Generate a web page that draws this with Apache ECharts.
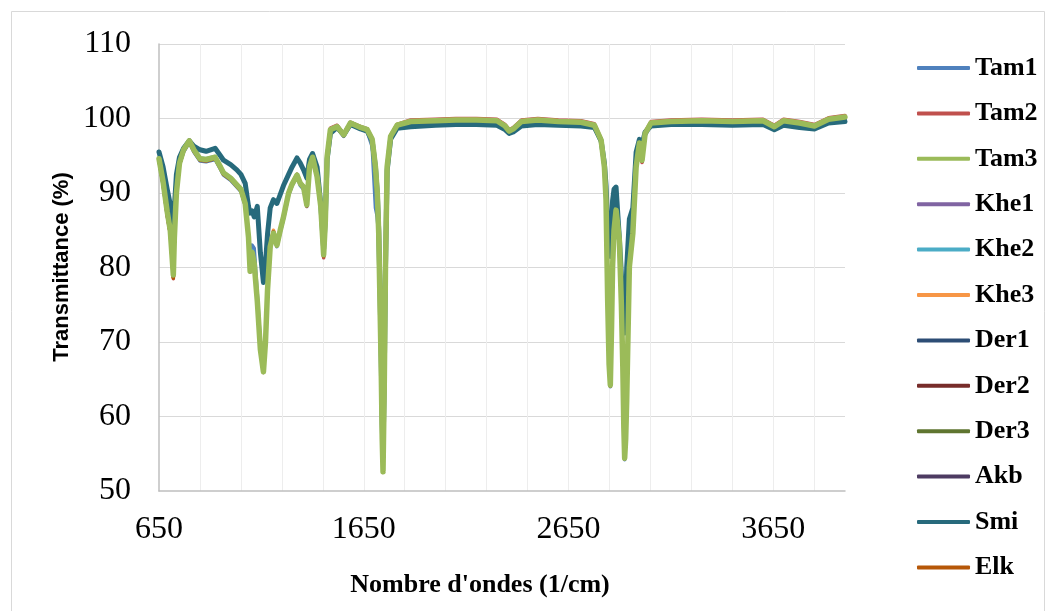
<!DOCTYPE html>
<html><head><meta charset="utf-8">
<script src="https://cdn.jsdelivr.net/npm/echarts@6/dist/echarts.min.js"></script>
<style>html,body{margin:0;padding:0;background:#fff}#c{width:1056px;height:611px}</style>
</head><body><div id="c"></div>
<script>
// Shared wavenumber axis (cm-1)
const wavenumbers = [650,670,690,705,715,720,725,735,750,770,798,820,850,880,924,950,965,1000,1030,1050,1071,1087,1095,1105,1115,1130,1145,1160,1170,1180,1193,1209,1226,1242,1258,1283,1300,1324,1340,1356,1372,1385,1400,1422,1440,1454,1462,1471,1487,1520,1552,1585,1634,1667,1691,1707,1716,1723,1730,1735,1740,1744,1750,1756,1764,1781,1813,1879,2000,2100,2200,2300,2340,2360,2380,2420,2500,2600,2711,2776,2809,2825,2833,2841,2848,2854,2860,2865,2872,2882,2898,2908,2915,2920,2924,2929,2934,2947,2964,2980,2996,3009,3024,3053,3150,3300,3450,3600,3655,3700,3778,3851,3920,4000];

const seriesNames = ['Tam1','Tam2','Tam3','Khe1','Khe2','Khe3','Der1','Der2','Der3','Akb','Smi','Elk'];

const Tam1 = [94.3,91.0,87.0,84.6,80.8,78.9,83.6,91.0,93.8,95.5,96.8,95.5,94.3,94.2,94.5,93.2,92.4,91.7,90.8,90.2,88.3,84.5,82.0,83.0,82.6,76.5,70.0,66.5,70.5,77.0,82.5,84.3,82.8,84.7,86.5,89.7,91.0,92.2,91.0,90.5,88.2,93.2,94.6,92.0,88.0,81.5,85.8,94.6,98.3,98.7,97.6,99.2,98.6,98.2,96.2,88.0,86.8,84.0,73.5,66.0,56.5,53.0,63.5,79.5,93.0,97.3,98.9,99.3,99.4,99.4,99.4,99.3,98.7,98.1,98.4,99.3,99.4,99.3,99.2,98.8,96.8,93.2,88.8,75.0,66.5,64.0,71.5,79.8,84.8,87.4,83.4,74.6,66.2,58.0,54.2,56.8,62.0,79.8,84.4,93.2,96.4,94.2,97.7,99.1,99.3,99.4,99.3,99.4,98.6,99.4,99.1,98.8,99.6,99.9];
const Tam2 = [94.4,91.2,87.0,84.5,80.5,78.5,83.5,91.2,93.9,95.7,97.1,95.7,94.5,94.4,94.7,93.4,92.6,91.9,91.0,90.4,88.5,84.0,79.6,82.2,80.6,75.6,69.2,66.2,70.2,77.2,82.9,84.7,83.2,85.1,86.9,90.1,91.3,92.5,91.4,90.9,88.2,93.6,94.9,92.3,88.0,81.3,85.8,95.0,98.7,99.1,97.9,99.5,98.9,98.6,97.3,93.6,90.2,84.8,74.2,66.5,56.8,52.8,64.2,80.3,93.6,97.7,99.2,99.8,99.9,100.0,100.0,99.9,99.2,98.5,98.8,99.8,100.0,99.8,99.7,99.3,97.3,93.7,89.3,75.4,66.8,64.4,72.2,80.3,85.2,87.9,83.9,75.2,66.9,58.7,54.6,57.2,62.4,80.3,84.8,93.7,96.9,94.1,98.2,99.6,99.8,99.9,99.8,99.9,99.1,99.9,99.6,99.2,100.1,100.4];
const Tam3 = [94.6,91.5,87.5,85.0,81.0,79.0,84.0,90.0,94.0,95.8,97.0,95.8,94.6,94.5,94.8,93.5,92.7,92.0,91.1,90.5,88.6,84.1,79.5,82.0,80.5,75.5,69.0,66.0,70.0,77.0,82.8,84.6,83.0,85.0,86.8,90.0,91.2,92.4,91.3,90.8,88.4,93.5,94.8,92.2,88.2,81.7,86.0,94.9,98.5,98.9,97.8,99.4,98.8,98.5,97.2,93.5,90.0,84.6,74.0,66.7,57.0,52.6,64.0,80.1,93.5,97.6,99.1,99.6,99.7,99.8,99.8,99.7,99.0,98.3,98.6,99.6,99.8,99.6,99.5,99.1,97.1,93.5,89.1,75.6,67.0,64.2,72.0,80.1,85.0,87.7,83.7,75.0,66.7,58.5,54.4,57.0,62.2,80.1,84.6,93.5,96.7,94.4,98.0,99.4,99.6,99.7,99.6,99.7,98.9,99.7,99.4,99.0,99.9,100.2];
const Khe1 = [94.5,91.4,87.4,84.9,81.1,79.2,84.1,91.4,93.9,95.7,96.9,95.7,94.5,94.4,94.7,93.4,92.6,91.9,91.0,90.4,88.5,84.0,79.7,82.1,80.7,75.7,69.3,66.3,70.3,77.1,82.7,84.5,83.0,84.9,86.7,89.9,91.1,92.3,91.2,90.7,88.3,93.4,94.7,92.1,88.1,81.8,86.0,94.8,98.4,98.8,97.7,99.3,98.7,98.4,97.1,93.4,89.9,84.5,73.9,66.6,57.1,52.9,64.1,80.0,93.4,97.5,99.0,99.5,99.6,99.7,99.7,99.6,98.9,98.2,98.5,99.5,99.7,99.5,99.4,99.0,97.0,93.4,89.0,75.8,67.2,64.5,72.1,80.0,84.9,87.6,83.6,75.1,66.9,58.8,54.8,57.3,62.5,80.0,84.5,93.4,96.6,94.5,97.9,99.3,99.5,99.6,99.5,99.6,98.8,99.6,99.3,98.9,99.8,100.1];
const Khe2 = [94.7,91.6,87.6,85.1,81.2,79.3,84.2,91.6,94.1,95.9,97.0,95.9,94.7,94.6,94.9,93.6,92.8,92.1,91.2,90.6,88.7,84.2,79.8,82.3,80.8,75.8,69.4,66.4,70.4,77.3,82.9,84.9,83.3,85.1,86.9,90.1,91.3,92.5,91.4,90.9,88.5,93.6,94.9,92.3,88.3,81.9,86.2,95.0,98.6,99.0,97.9,99.5,98.9,98.6,97.3,93.7,90.1,84.8,74.3,66.9,57.3,53.0,64.3,80.3,93.6,97.7,99.2,99.6,99.7,99.8,99.8,99.7,99.1,98.4,98.7,99.6,99.8,99.6,99.5,99.2,97.2,93.6,89.3,76.0,67.4,64.6,72.3,80.3,85.1,87.8,83.8,75.3,67.0,58.9,54.9,57.4,62.6,80.3,84.7,93.6,96.8,94.6,98.1,99.4,99.6,99.7,99.6,99.7,98.9,99.7,99.4,99.1,99.9,100.2];
const Khe3 = [94.5,91.3,87.3,84.8,80.8,78.8,83.8,91.3,93.9,95.7,96.9,95.7,94.6,94.5,94.8,93.5,92.7,92.0,91.1,90.5,88.6,84.2,79.6,82.1,80.6,75.6,69.1,66.1,70.1,77.2,83.0,85.0,83.3,85.1,86.9,90.1,91.3,92.5,91.4,90.9,88.5,93.6,94.9,92.3,88.3,81.6,86.1,95.0,98.6,99.0,97.9,99.5,98.9,98.6,97.3,93.6,90.1,84.7,74.1,66.8,57.1,52.7,64.1,80.2,93.6,97.7,99.2,99.7,99.8,99.9,99.9,99.8,99.1,98.4,98.7,99.7,99.9,99.7,99.6,99.2,97.2,93.6,89.2,75.7,67.1,64.3,72.1,80.2,85.1,87.8,83.8,75.1,66.8,58.6,54.5,57.1,62.3,80.2,84.7,93.6,96.8,94.5,98.1,99.5,99.7,99.8,99.7,99.8,99.0,99.8,99.5,99.1,100.0,100.3];
const Der1 = [94.6,91.6,87.6,85.1,81.2,79.2,84.1,91.5,94.0,95.8,96.9,95.8,94.6,94.5,94.8,93.5,92.7,92.0,91.1,90.5,88.6,84.2,79.6,82.0,80.6,75.7,69.2,66.2,70.2,77.1,82.8,84.6,83.0,85.0,86.8,90.0,91.2,92.4,91.3,90.8,88.4,93.5,94.8,92.2,88.2,81.8,86.1,94.8,98.4,98.8,97.7,99.3,98.7,98.4,97.1,93.5,90.0,84.7,74.2,66.9,57.2,52.8,64.2,80.2,93.5,97.5,99.0,99.4,99.5,99.6,99.6,99.5,98.9,98.2,98.5,99.4,99.6,99.4,99.3,99.0,97.0,93.5,89.2,75.8,67.2,64.4,72.1,80.1,85.0,87.7,83.7,75.1,66.8,58.7,54.6,57.2,62.3,80.1,84.6,93.5,96.6,94.4,97.9,99.3,99.4,99.5,99.4,99.5,98.7,99.5,99.2,98.9,99.7,100.0];
const Der2 = [94.4,91.3,87.3,84.8,80.7,78.7,83.8,91.3,93.9,95.7,97.0,95.7,94.5,94.4,94.7,93.4,92.6,91.9,91.0,90.4,88.5,84.0,79.4,81.9,80.4,75.4,68.9,65.9,69.9,76.9,82.7,84.5,82.9,84.9,86.7,89.9,91.1,92.3,91.2,90.7,88.3,93.4,94.7,92.1,88.1,81.6,85.9,94.8,98.4,98.8,97.7,99.3,98.7,98.4,97.1,93.4,89.9,84.5,73.8,66.5,56.8,52.5,63.8,80.0,93.4,97.5,99.0,99.5,99.6,99.7,99.7,99.6,98.9,98.2,98.5,99.5,99.7,99.5,99.4,99.0,97.0,93.4,89.0,75.5,66.9,64.1,71.9,80.0,84.9,87.6,83.6,74.9,66.6,58.4,54.3,56.9,62.1,80.0,84.5,93.4,96.6,94.3,97.9,99.3,99.5,99.6,99.5,99.6,98.8,99.6,99.3,98.9,99.8,100.1];
const Der3 = [94.6,91.5,87.4,85.0,81.0,79.1,84.0,91.4,94.0,95.8,97.0,95.8,94.6,94.5,94.7,93.5,92.7,92.0,91.1,90.5,88.6,84.1,79.5,82.0,80.5,75.6,69.1,66.1,70.0,77.0,82.8,84.6,83.1,85.0,86.8,90.0,91.2,92.4,91.3,90.8,88.4,93.5,94.8,92.2,88.2,81.8,86.0,94.9,98.5,98.9,97.8,99.4,98.8,98.5,97.2,93.5,90.0,84.6,74.1,66.8,57.0,52.7,64.0,80.1,93.5,97.6,99.1,99.6,99.7,99.8,99.8,99.7,99.0,98.3,98.6,99.6,99.8,99.6,99.5,99.1,97.1,93.5,89.1,75.7,67.1,64.3,72.0,80.1,85.0,87.7,83.7,75.1,66.8,58.6,54.5,57.0,62.2,80.1,84.6,93.5,96.7,94.4,98.0,99.4,99.6,99.7,99.6,99.7,98.9,99.7,99.4,99.0,99.9,100.2];
const Akb = [94.5,91.4,87.3,84.9,80.9,79.0,83.9,91.4,93.9,95.7,96.9,95.7,94.5,94.4,94.7,93.4,92.6,91.9,91.0,90.4,88.5,84.1,79.6,82.0,80.5,75.6,69.1,66.1,70.1,77.1,82.8,84.5,83.0,84.9,86.7,89.9,91.1,92.3,91.2,90.7,88.3,93.4,94.7,92.1,88.1,81.7,86.0,94.8,98.4,98.8,97.7,99.3,98.7,98.4,97.1,93.4,89.9,84.6,74.0,66.7,57.0,52.7,64.0,80.1,93.4,97.5,99.0,99.5,99.6,99.7,99.7,99.6,98.9,98.2,98.5,99.5,99.7,99.5,99.4,99.0,97.0,93.4,89.1,75.6,67.0,64.2,72.0,80.1,84.9,87.6,83.6,75.0,66.7,58.5,54.4,57.0,62.2,80.1,84.5,93.4,96.6,94.4,97.9,99.3,99.5,99.6,99.5,99.6,98.8,99.6,99.3,98.9,99.8,100.1];
const Smi = [95.5,93.5,90.5,88.5,86.5,85.5,88.0,92.5,94.8,96.0,97.0,96.3,95.8,95.6,96.0,95.0,94.4,93.8,93.1,92.5,91.3,88.2,87.3,87.6,86.8,88.2,82.0,78.0,80.5,84.5,88.0,89.1,88.6,89.8,91.0,92.5,93.5,94.7,94.0,93.1,92.0,94.5,95.3,93.5,88.5,82.5,86.5,94.5,98.0,98.8,97.8,99.2,98.6,98.3,97.0,93.5,90.0,85.0,76.0,68.0,59.0,55.0,65.0,80.0,93.0,97.2,98.7,98.9,99.1,99.2,99.2,99.1,98.5,98.0,98.2,99.0,99.2,99.1,99.0,98.8,97.0,94.0,91.0,86.0,82.0,81.5,85.5,89.0,90.5,90.8,84.0,79.0,75.0,72.0,71.2,75.0,80.0,86.5,88.0,95.5,97.2,96.5,98.2,99.0,99.2,99.2,99.1,99.2,98.5,99.1,98.8,98.6,99.4,99.6];
const Elk = [94.4,91.2,87.1,84.6,80.6,78.6,83.6,91.2,93.8,95.6,96.9,95.6,94.4,94.3,94.6,93.3,92.5,91.8,90.9,90.3,88.4,84.0,79.5,81.9,80.5,75.5,69.0,66.0,70.0,77.0,82.9,84.8,83.1,85.0,86.8,90.0,91.2,92.4,91.3,90.8,88.3,93.5,94.8,92.2,88.1,81.5,85.9,94.9,98.5,98.9,97.8,99.4,98.8,98.5,97.2,93.5,90.0,84.6,74.0,66.6,56.9,52.6,64.0,80.1,93.5,97.6,99.1,99.6,99.7,99.8,99.8,99.7,99.0,98.3,98.6,99.6,99.8,99.6,99.5,99.1,97.1,93.5,89.1,75.5,66.9,64.1,71.9,80.1,85.0,87.7,83.7,75.0,66.7,58.5,54.4,57.0,62.2,80.1,84.6,93.5,96.7,94.3,98.0,99.4,99.6,99.7,99.6,99.7,98.9,99.7,99.4,99.0,99.9,100.2];

const seriesValues = [Tam1,Tam2,Tam3,Khe1,Khe2,Khe3,Der1,Der2,Der3,Akb,Smi,Elk];
const xTickLabels = [650,1650,2650,3650];
const yTickLabels = [50,60,70,80,90,100,110];

const palette = ['#4F81BD','#C0504D','#9BBB59','#8064A2','#4BACC6','#F79646','#2C4D75','#772C2A','#5F7530','#4D3B62','#276A7C','#B65708'];

const chart = echarts.init(document.getElementById('c'), null, {renderer:'canvas'});
const series = seriesNames.map((name, i) => {
  let width = 3.5, z = 2;
  if (name === 'Smi') { width = 5; z = 3; }
  if (name === 'Tam3') { width = 5.5; z = 4; }
  return {
    name, type:'line', symbol:'none', showSymbol:false, smooth:false, z,
    lineStyle:{color:palette[i], width, join:'round', cap:'round'},
    itemStyle:{color:palette[i]},
    data: wavenumbers.map((w, k) => [w, seriesValues[i][k]])
  };
});

chart.setOption({
  animation:false,
  backgroundColor:'#ffffff',
  grid:{left:159, top:44, width:686, height:447, containLabel:false},
  legend:{
    orient:'vertical', left:917, top:55, padding:0, itemWidth:53, itemHeight:4, itemGap:19.4,
    icon:'roundRect',
    data:seriesNames,
    textStyle:{fontFamily:'Liberation Serif', fontWeight:'bold', fontSize:26, color:'#000', lineHeight:26}
  },
  xAxis:[{
    type:'value', min:650, max:4000, interval:1000,
    axisLine:{show:true, lineStyle:{color:'#bfbfbf', width:1.5}},
    axisTick:{show:false},
    axisLabel:{fontFamily:'Liberation Serif', fontSize:32, color:'#000', margin:23,
      formatter:v => xTickLabels.indexOf(v) >= 0 ? String(v) : ''},
    splitLine:{show:true, showMinLine:false, showMaxLine:false, lineStyle:{color:'#d9d9d9', width:1}}
  },{
    type:'value', min:650, max:4000, interval:200, position:'bottom',
    axisLine:{show:false}, axisTick:{show:false}, axisLabel:{show:false},
    splitLine:{show:true, showMinLine:false, showMaxLine:false, lineStyle:{color:'#ededed', width:1}}
  }],
  yAxis:{
    type:'value', min:50, max:110, interval:10,
    axisLine:{show:true, lineStyle:{color:'#bfbfbf', width:1.5}},
    axisTick:{show:false},
    axisLabel:{fontFamily:'Liberation Serif', fontSize:32, color:'#000', margin:28,
      formatter:v => yTickLabels.indexOf(v) >= 0 ? String(v) : ''},
    splitLine:{show:true, showMinLine:false, lineStyle:{color:'#d9d9d9', width:1}}
  },
  graphic:[
    {type:'rect', shape:{x:11.5, y:11.5, width:1033, height:620}, style:{fill:'none', stroke:'#d9d9d9', lineWidth:1}, silent:true, z:-10},
    {type:'text', x:480, y:585, style:{text:"Nombre d'ondes (1/cm)", font:"bold 26px 'Liberation Serif'", fill:'#000', textAlign:'center', textVerticalAlign:'middle'}},
    {type:'text', x:62, y:267, rotation:Math.PI/2, style:{text:'Transmittance (%)', font:"bold 22px 'Liberation Sans'", fill:'#000', textAlign:'center', textVerticalAlign:'middle'}}
  ],
  series
});
</script>
</body></html>
